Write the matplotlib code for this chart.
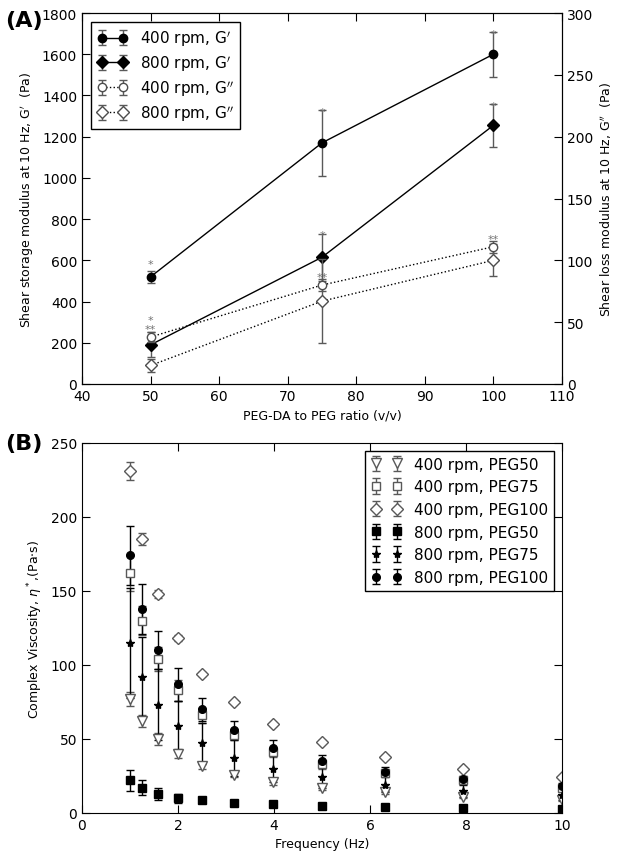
import numpy as np
import matplotlib
matplotlib.use('Agg')
import matplotlib.pyplot as plt

plt.rcParams['xtick.direction'] = 'in'
plt.rcParams['ytick.direction'] = 'in'
plt.rcParams['xtick.top'] = True
plt.rcParams['ytick.right'] = True
plt.rcParams['xtick.major.size'] = 6
plt.rcParams['ytick.major.size'] = 6
plt.rcParams['mathtext.fontset'] = 'dejavusans'

# --- panel A data ---
ratio = [50, 75, 100]
g1_400 = [520, 1170, 1600]
g1_400_err = [30, 160, 110]
g1_800 = [190, 615, 1255]
g1_800_err = [60, 115, 105]
g2_400 = [38, 80, 111]
g2_400_err = [4, 5, 5]
g2_800 = [15, 67, 100]
g2_800_err = [5, 34, 13]
# significance marks (x, y in G' units, text)
stars_x = [50, 50, 50, 75, 75, 75, 100, 100, 100]
stars_y = [580, 310, 265, 1320, 725, 520, 1700, 1350, 705]
stars_t = ['*', '*', '**', '*', '*', '**', '*', '*', '**']

# --- panel B data ---
freq = [1.0, 1.26, 1.58, 2.0, 2.51, 3.16, 3.98, 5.01, 6.31, 7.94, 10.0]
v400_50 = [77, 62, 50, 40, 32, 26, 21, 17, 14, 11, 9]
v400_50_err = [5, 4, 4, 3, 2, 2, 2, 1.5, 1, 1, 1]
v400_75 = [162, 130, 104, 83, 66, 53, 41, 33, 27, 22, 17]
v400_75_err = [12, 10, 8, 7, 5, 4, 3, 3, 2, 2, 1]
v400_100 = [231, 185, 148, 118, 94, 75, 60, 48, 38, 30, 24]
v400_100_err = [6, 4, 3, 2, 1.5, 1, 1, 1, 1, 1, 1]
v800_50 = [22, 17, 13, 10, 9, 7, 6, 5, 4, 3.5, 3]
v800_50_err = [7, 5, 4, 3, 1, 1, 1, 1, 0.5, 0.5, 0.5]
v800_75 = [115, 92, 73, 59, 47, 37, 30, 24, 19, 15, 12]
v800_75_err = [37, 27, 24, 17, 14, 12, 9, 7, 5, 4, 3]
v800_100 = [174, 138, 110, 87, 70, 56, 44, 35, 28, 23, 18]
v800_100_err = [20, 17, 13, 11, 8, 6, 5, 4, 3, 2, 2]

fig = plt.figure(figsize=(6.18, 8.53), dpi=100)
axA = fig.add_axes([82/618, 1-385/853, 480/618, 371/853])
axB = fig.add_axes([82/618, 1-814/853, 480/618, 370/853])

# panel A
ecol = '0.35'
h1 = axA.errorbar(ratio, g1_400, yerr=g1_400_err, fmt='-o', color='k', ecolor=ecol,
                  ms=6, capsize=3, lw=1, label=r"400 rpm, G$'$")
h2 = axA.errorbar(ratio, g1_800, yerr=g1_800_err, fmt='-D', color='k', ecolor=ecol,
                  ms=6, capsize=3, lw=1, label=r"800 rpm, G$'$")
axA2 = axA.twinx()
h3 = axA2.errorbar(ratio, g2_400, yerr=g2_400_err, fmt=':o', color='k', mfc='w', mec='0.3',
                   ecolor=ecol, ms=6, capsize=3, lw=1, label=r"400 rpm, G$''$")
h4 = axA2.errorbar(ratio, g2_800, yerr=g2_800_err, fmt=':D', color='k', mfc='w', mec='0.3',
                   ecolor=ecol, ms=6, capsize=3, lw=1, label=r"800 rpm, G$''$")
for x, y, t in zip(stars_x, stars_y, stars_t):
    axA.text(x, y, t, ha='center', va='center', fontsize=8, color='0.45')

axA.set_xlim(40, 110)
axA.set_ylim(0, 1800)
axA2.set_ylim(0, 300)
axA.set_xlabel('PEG-DA to PEG ratio (v/v)', fontsize=9)
axA.set_ylabel(r"Shear storage modulus at 10 Hz, G$'$  (Pa)", fontsize=9)
axA2.set_ylabel(r"Shear loss modulus at 10 Hz, G$''$  (Pa)", fontsize=9)
axA.tick_params(labelsize=10)
axA2.tick_params(labelsize=10, direction='in', length=6)
axA.tick_params(axis='y', right=False)
axA.legend(handles=[h1, h2, h3, h4], loc='upper left', fontsize=11, numpoints=2,
           fancybox=False, edgecolor='k', framealpha=1, borderaxespad=0.6,
           labelspacing=0.35)
fig.text(0.008, 0.975, '(A)', fontsize=16, fontweight='bold', va='center')

# panel B
open_kw = dict(mfc='w', mec='0.35', ecolor='0.35', ls='none', capsize=3, lw=1)
fill_kw = dict(color='k', ecolor='k', ls='none', capsize=3, lw=1)
axB.errorbar(freq, v400_50, yerr=v400_50_err, marker='v', ms=7, label='400 rpm, PEG50', **open_kw)
axB.errorbar(freq, v400_75, yerr=v400_75_err, marker='s', ms=6, label='400 rpm, PEG75', **open_kw)
axB.errorbar(freq, v400_100, yerr=v400_100_err, marker='D', ms=6, label='400 rpm, PEG100', **open_kw)
axB.errorbar(freq, v800_50, yerr=v800_50_err, marker='s', ms=6, label='800 rpm, PEG50', **fill_kw)
axB.errorbar(freq, v800_75, yerr=v800_75_err, marker='*', ms=6, label='800 rpm, PEG75', **fill_kw)
axB.errorbar(freq, v800_100, yerr=v800_100_err, marker='o', ms=5.5, label='800 rpm, PEG100', **fill_kw)

axB.set_xlim(0, 10)
axB.set_ylim(0, 250)
axB.set_xlabel('Frequency (Hz)', fontsize=9)
axB.set_ylabel(r'Complex Viscosity, $\eta^*$,(Pa$\cdot$s)', fontsize=9)
axB.tick_params(labelsize=10)
axB.legend(loc='upper right', fontsize=11, numpoints=2, fancybox=False,
           edgecolor='k', framealpha=1, borderaxespad=0.5, labelspacing=0.5)
fig.text(0.008, 0.479, '(B)', fontsize=16, fontweight='bold', va='center')

fig.savefig('out.png', dpi=100)
